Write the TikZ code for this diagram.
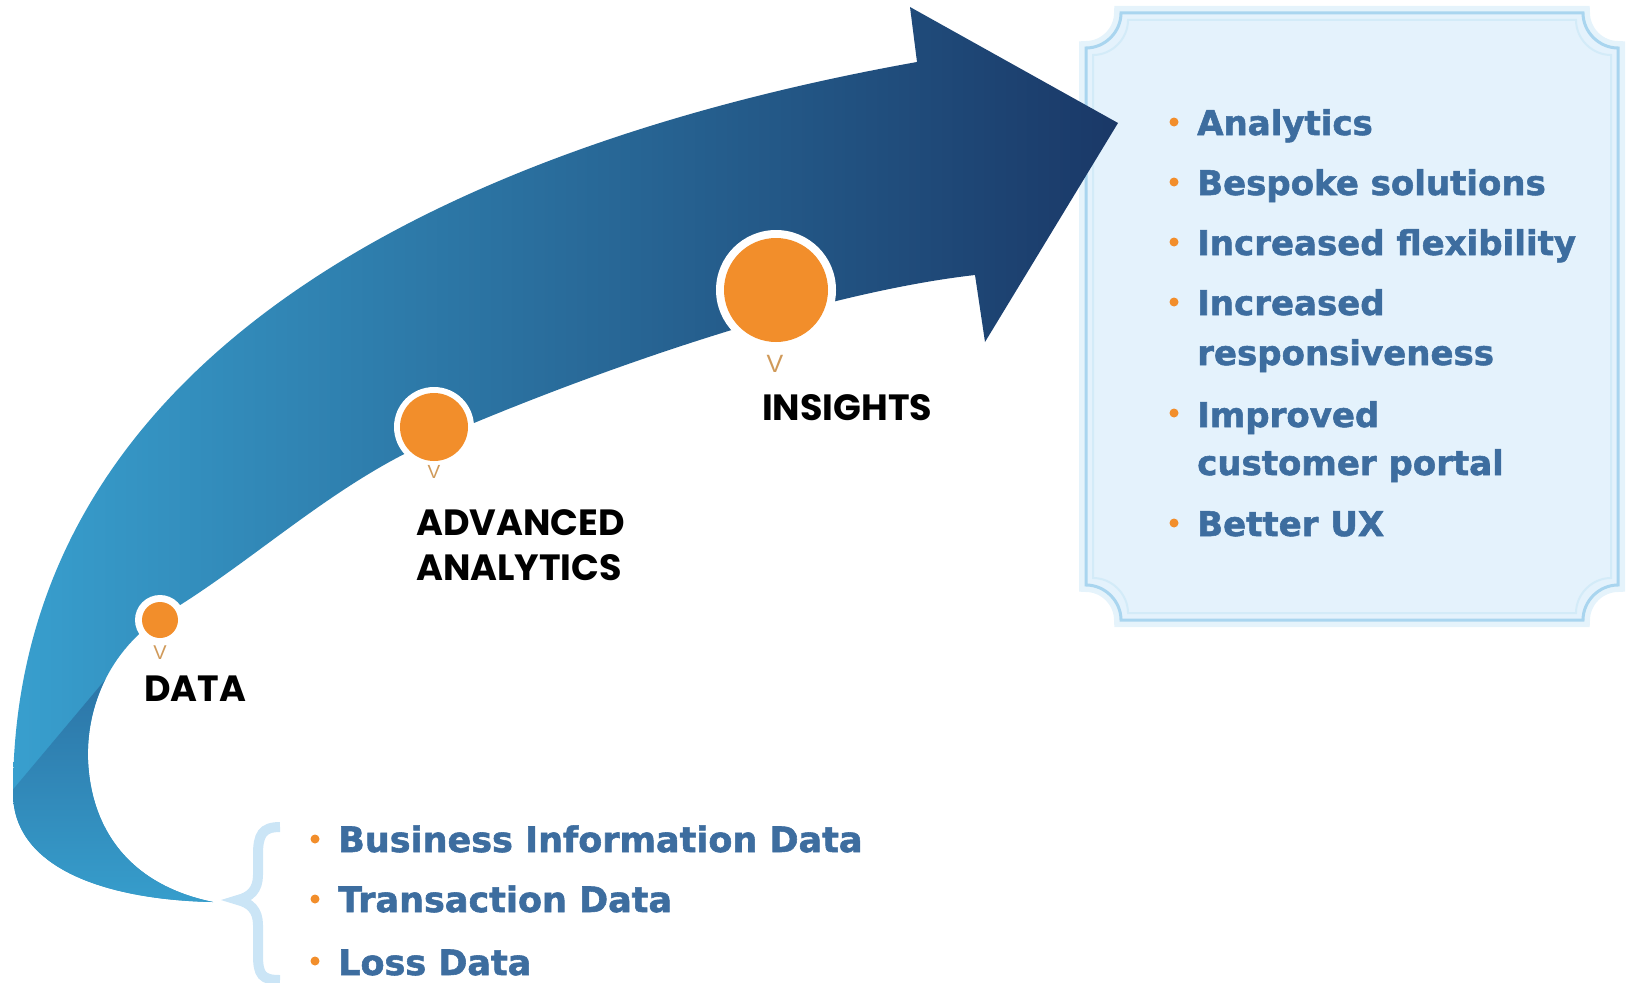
\documentclass[tikz,border=0pt]{standalone}
\usepackage{fontspec}
\newfontfamily\labfont{Poppins}
\newfontfamily\listfont{DejaVu Sans}[BoldFeatures={FakeBold=1.6}]
\newfontfamily\vfont{Liberation Sans}
\definecolor{arrL}{HTML}{389FCE}
\definecolor{arrM}{HTML}{2B6894}
\definecolor{arrR}{HTML}{1A3867}
\definecolor{foldD}{HTML}{2C74A6}
\definecolor{foldL}{HTML}{38A4D2}
\definecolor{dotc}{HTML}{F28E2B}
\definecolor{vcol}{HTML}{D09A5A}
\definecolor{txt}{HTML}{3D6D9F}
\definecolor{boxfill}{HTML}{E4F2FC}
\definecolor{boxline}{HTML}{A9D5EF}
\definecolor{glowc}{HTML}{D3EBF8}
\definecolor{bracec}{HTML}{CBE5F6}
\tikzset{
 lab/.style={font=\labfont\bfseries\fontsize{36.5}{42}\selectfont, anchor=base west, inner sep=0pt, text=black},
 item/.style={font=\listfont\bfseries\fontsize{34}{40}\selectfont, anchor=base west, inner sep=0pt, text=txt},
 itemb/.style={item, font=\listfont\bfseries\fontsize{35}{40}\selectfont},
 bul/.style={circle, fill=dotc, inner sep=0pt, minimum size=9},
 vmark/.style={font=\vfont, text=vcol, inner sep=0pt, anchor=base},
 ring/.style={circle, fill=white, inner sep=0pt},
 orb/.style={circle, fill=dotc, inner sep=0pt},
}
\begin{document}
\begin{tikzpicture}[x=1pt,y=-1pt]
\useasboundingbox (0,0) rectangle (1632,982);
% box
\draw[glowc, line width=14, opacity=0.6] (1121,13) -- (1583,13) .. controls (1583,32) and (1599,48) .. (1618,48) -- (1618,585) .. controls (1599,585) and (1583,601) .. (1583,620) -- (1121,620) .. controls (1121,601) and (1105,585) .. (1086,585) -- (1086,48) .. controls (1105,48) and (1121,32) .. (1121,13) -- cycle;
\draw[fill=boxfill, draw=boxline, line width=3] (1121,13) -- (1583,13) .. controls (1583,32) and (1599,48) .. (1618,48) -- (1618,585) .. controls (1599,585) and (1583,601) .. (1583,620) -- (1121,620) .. controls (1121,601) and (1105,585) .. (1086,585) -- (1086,48) .. controls (1105,48) and (1121,32) .. (1121,13) -- cycle;
\draw[glowc, line width=2] (1128,20) -- (1576,20) .. controls (1576,39) and (1592,55) .. (1611,55) -- (1611,578) .. controls (1592,578) and (1576,594) .. (1576,613) -- (1128,613) .. controls (1128,594) and (1112,578) .. (1093,578) -- (1093,55) .. controls (1112,55) and (1128,39) .. (1128,20) -- cycle;
% arrow
\shade[left color=arrL, middle color=arrM, right color=arrR]
 (213,902) .. controls (110,900) and (13,870) .. (13,793)
 .. controls (13,340) and (480,140) .. (917,62)
 -- (910,7) -- (1118,123) -- (985,342) -- (975,275)
 .. controls (800,295) and (560,385) .. (434,440)
 .. controls (340,480) and (260,555) .. (177,607)
 .. controls (115,640) and (86,700) .. (88,760)
 .. controls (91,830) and (130,885) .. (213,902) -- cycle;
\begin{scope}
\clip (213,902) .. controls (110,900) and (13,870) .. (13,793)
 .. controls (13,340) and (480,140) .. (917,62)
 -- (910,7) -- (1118,123) -- (985,342) -- (975,275)
 .. controls (800,295) and (560,385) .. (434,440)
 .. controls (340,480) and (260,555) .. (177,607)
 .. controls (115,640) and (86,700) .. (88,760)
 .. controls (91,830) and (130,885) .. (213,902) -- cycle;
\shade[top color=foldD, bottom color=foldL] (0,805) -- (110,674) -- (270,674) -- (270,940) -- (0,940) -- cycle;
\end{scope}
% circles
\node[ring, minimum size=50] (r1) at (160,620) {};
\node[orb, minimum size=36] (c1) at (160,620) {};
\node[ring, minimum size=80] (r2) at (434,427) {};
\node[orb, minimum size=68] (c2) at (434,427) {};
\node[ring, minimum size=120] (r3) at (776,290) {};
\node[orb, minimum size=104] (c3) at (776,290) {};
\node[vmark, font=\vfont\fontsize{20}{22}\selectfont] (v1) at (160,659) {V};
\node[vmark, font=\vfont\fontsize{19}{22}\selectfont] (v2) at (434,478) {V};
\node[vmark, font=\vfont\fontsize{25}{28}\selectfont] (v3) at (775,372) {V};
\node[lab] (data) at (144,701) {DATA};
\node[lab] (adv1) at (416,535) {ADVANCED};
\node[lab] (adv2) at (416,580) {ANALYTICS};
\node[lab] (ins) at (762,420) {INSIGHTS};
% list in box
\node[bul] (b1) at (1174,122) {};
\node[item] (t1) at (1197,135) {Analytics};
\node[bul] (b2) at (1174,182) {};
\node[item] (t2) at (1197,195) {Bespoke solutions};
\node[bul] (b3) at (1174,242) {};
\node[item] (t3) at (1197,255) {Increased flexibility};
\node[bul] (b4) at (1174,302) {};
\node[item] (t4) at (1197,315) {Increased};
\node[item] (t4b) at (1197,365) {responsiveness};
\node[bul] (b5) at (1174,413) {};
\node[item] (t5) at (1197,427) {Improved};
\node[item] (t5b) at (1197,475) {customer portal};
\node[bul] (b6) at (1174,523) {};
\node[item] (t6) at (1197,536) {Better UX};
% brace and data list
\draw[bracec, line width=10] (280,827) .. controls (262,827) and (258,835) .. (258,855) -- (258,875) .. controls (258,890) and (250,897) .. (238,900) .. controls (250,903) and (258,910) .. (258,925) -- (258,955) .. controls (258,975) and (262,980) .. (280,980);
\node[bul] (d1) at (315,839) {};
\node[itemb] (dt1) at (338,852) {Business Information Data};
\node[bul] (d2) at (315,899) {};
\node[itemb] (dt2) at (338,912) {Transaction Data};
\node[bul] (d3) at (315,961) {};
\node[itemb] (dt3) at (338,975) {Loss Data};
\end{tikzpicture}
\end{document}
